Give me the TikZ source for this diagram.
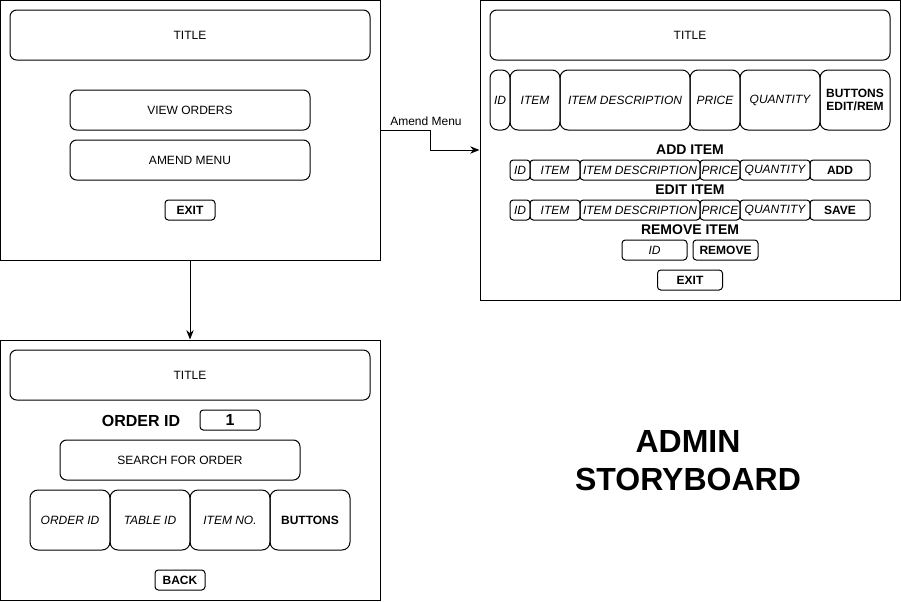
\documentclass[tikz,border=0pt]{standalone}
\usepackage{fontspec}
\setmainfont{Liberation Sans}
\usetikzlibrary{arrows.meta}
\tikzset{
  wh/.style 2 args={minimum width=#1*0.75pt, minimum height=#2*0.75pt},
  frame/.style={draw, line width=0.75pt, inner sep=0pt},
  box/.style={draw, line width=0.75pt, rounded corners=5pt, inner sep=0pt,
    font=\fontsize{9}{11}\selectfont},
  cell/.style={box, rounded corners=6pt, font=\fontsize{9}{11}\selectfont\itshape},
  boldcell/.style={box, rounded corners=6pt, align=center,
    font=\fontsize{9}{10}\selectfont\bfseries},
  smallcell/.style={box, rounded corners=2.5pt, font=\fontsize{9}{11}\selectfont\itshape},
  btn/.style={box, rounded corners=2.5pt, font=\fontsize{9}{11}\selectfont\bfseries},
  heading/.style={inner sep=0pt, font=\fontsize{10.5}{12}\selectfont\bfseries},
  lbl/.style={inner sep=0pt, font=\fontsize{9}{11}\selectfont},
  link/.style={draw, line width=0.75pt, -{Stealth[length=7pt,width=5.5pt]}},
}
\begin{document}
\begin{tikzpicture}[x=0.75pt, y=-0.75pt]
    \useasboundingbox (0,0) rectangle (901,601);
    \node[frame, wh={380}{260}] (scrMain) at (190,130) {};
    \node[box, wh={360}{50}] (titleMain) at (190,35) {TITLE};
    \node[box, wh={240}{40}] (viewOrders) at (190,110) {VIEW ORDERS};
    \node[box, wh={240}{40}] (amendMenu) at (190,160) {AMEND MENU};
    \node[btn, wh={50}{20}] (exitMain) at (190,210) {EXIT};
    \begin{scope}[shift={(480,0)}]
      \node[frame, wh={420}{300}] (scrAmend) at (210,150) {};
      \node[box, wh={400}{50}] (titleAmend) at (210,35) {TITLE};
      \node[cell, wh={20}{60}] (hdId) at (20,100) {ID};
      \node[cell, wh={50}{60}] (hdItem) at (55,100) {ITEM};
      \node[cell, wh={130}{60}] (hdDesc) at (145,100) {ITEM DESCRIPTION};
      \node[cell, wh={50}{60}] (hdPrice) at (235,100) {PRICE};
      \node[cell, wh={80}{60}] (hdQty) at (300,100) {QUANTITY};
      \node[boldcell, wh={70}{60}] (hdButtons) at (375,100) {BUTTONS\\EDIT/REM};
      \node[heading] (addHead) at (210,150) {ADD ITEM};
      \node[smallcell, wh={20}{20}] (addId) at (40,170) {ID};
      \node[smallcell, wh={50}{20}] (addItem) at (75,170) {ITEM};
      \node[smallcell, wh={120}{20}] (addDesc) at (160,170) {ITEM DESCRIPTION};
      \node[smallcell, wh={40}{20}] (addPrice) at (240,170) {PRICE};
      \node[smallcell, wh={70}{20}] (addQty) at (295,170) {QUANTITY};
      \node[btn, wh={60}{20}] (addBtn) at (360,170) {ADD};
      \node[heading] (editHead) at (210,190) {EDIT ITEM};
      \node[smallcell, wh={20}{20}] (editId) at (40,210) {ID};
      \node[smallcell, wh={50}{20}] (editItem) at (75,210) {ITEM};
      \node[smallcell, wh={120}{20}] (editDesc) at (160,210) {ITEM DESCRIPTION};
      \node[smallcell, wh={40}{20}] (editPrice) at (240,210) {PRICE};
      \node[smallcell, wh={70}{20}] (editQty) at (295,210) {QUANTITY};
      \node[btn, wh={60}{20}] (saveBtn) at (360,210) {SAVE};
      \node[heading] (remHead) at (210,230) {REMOVE ITEM};
      \node[smallcell, wh={65}{20}] (remId) at (174.5,250) {ID};
      \node[btn, wh={65}{20}] (remBtn) at (245.5,250) {REMOVE};
      \node[btn, wh={65}{20}] (exitAmend) at (210,280) {EXIT};
    \end{scope}
    \begin{scope}[shift={(0,340)}]
      \node[frame, wh={380}{260}] (scrOrders) at (190,130) {};
      \node[box, wh={360}{50}] (titleOrders) at (190,35) {TITLE};
      \node[heading, font=\fontsize{12}{14}\selectfont\bfseries] (orderIdLbl) at (141,81) {ORDER ID};
      \node[btn, wh={60}{20}, font=\fontsize{12}{14}\selectfont\bfseries] (orderIdVal) at (230,80) {1};
      \node[box, wh={240}{40}] (searchBtn) at (180,120) {SEARCH FOR ORDER};
      \node[cell, wh={80}{60}] (colOrder) at (70,180) {ORDER ID};
      \node[cell, wh={80}{60}] (colTable) at (150,180) {TABLE ID};
      \node[cell, wh={80}{60}] (colItemNo) at (230,180) {ITEM NO.};
      \node[boldcell, wh={80}{60}] (colButtons) at (310,180) {BUTTONS};
      \node[btn, wh={50}{20}] (backBtn) at (180,240) {BACK};
    \end{scope}
    \node[align=center, inner sep=0pt, font=\fontsize{24}{28.5}\selectfont\bfseries] (boardTitle) at (688,461) {ADMIN\\STORYBOARD};
    \node[lbl] (amendLbl) at (426,121) {Amend Menu};
    \draw[link] (scrMain.east) -- ++(50,0) |- (scrAmend.west);
    \draw[link] (scrMain.south) -- (scrOrders.north);
  \end{tikzpicture}
\end{document}
